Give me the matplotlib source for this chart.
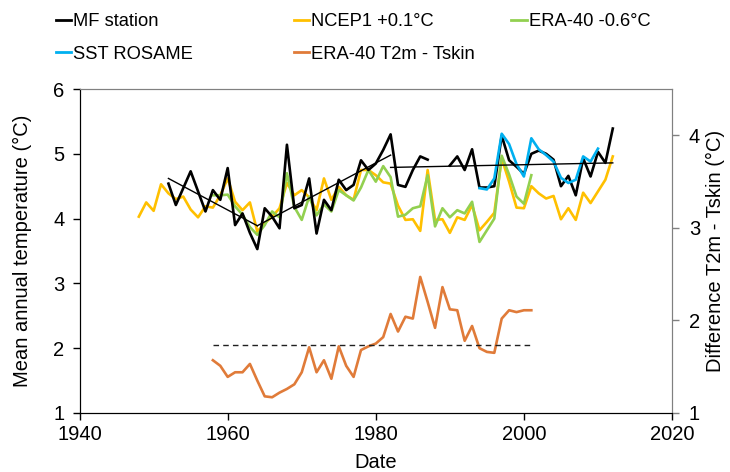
import numpy as np
import matplotlib.pyplot as plt
from matplotlib.lines import Line2D

plt.rcParams['font.family'] = ['Liberation Sans', 'DejaVu Sans']
plt.rcParams['font.size'] = 14.5

# MF station (1952-2012), gaps in 1988-1989
mf_years = np.arange(1952, 2013)
mf_temp = [4.54, 4.21, 4.47, 4.73, 4.42, 4.11, 4.44, 4.29, 4.78, 3.90,
           4.08, 3.78, 3.53, 4.16, 4.03, 3.85, 5.14, 4.16, 4.21, 4.62,
           3.77, 4.29, 4.13, 4.60, 4.44, 4.52, 4.90, 4.75, 4.85, 5.06,
           5.30, 4.52, 4.49, 4.75, 4.96, 4.91, np.nan, np.nan, 4.82, 4.96,
           4.75, 5.07, 4.48, 4.48, 4.50, 5.28, 4.90, 4.80, 4.69, 5.00,
           5.05, 5.00, 4.91, 4.50, 4.66, 4.36, 4.93, 4.65, 5.03, 4.86,
           5.39]

# NCEP1 +0.1°C (1948-2012)
ncep_years = np.arange(1948, 2013)
ncep_temp = [4.03, 4.25, 4.12, 4.53, 4.39, 4.30, 4.34, 4.14, 4.02, 4.19,
             4.17, 4.36, 4.62, 4.26, 4.13, 4.25, 3.80, 3.93, 4.03, 4.16,
             4.55, 4.36, 4.44, 4.33, 4.13, 4.62, 4.29, 4.49, 4.36, 4.29,
             4.75, 4.75, 4.67, 4.56, 4.54, 4.20, 3.98, 3.99, 3.81, 4.75,
             3.98, 3.99, 3.78, 4.02, 3.98, 4.21, 3.82, 3.95, 4.09, 4.93,
             4.57, 4.17, 4.16, 4.50, 4.39, 4.31, 4.35, 3.99, 4.16, 3.98,
             4.40, 4.24, 4.42, 4.60, 4.96]

# ERA-40 -0.6°C (1958-2001)
era_years = np.arange(1958, 2002)
era_temp = [4.36, 4.36, 4.37, 4.19, 4.06, 3.87, 3.75, 3.90, 4.11, 4.02,
            4.70, 4.18, 3.98, 4.34, 4.05, 4.22, 4.11, 4.44, 4.36, 4.28,
            4.48, 4.75, 4.57, 4.81, 4.64, 4.03, 4.06, 4.16, 4.19, 4.67,
            3.88, 4.16, 4.02, 4.13, 4.08, 4.26, 3.64, 3.82, 4.00, 4.97,
            4.68, 4.34, 4.23, 4.67]

# SST ROSAME (1994-2010)
sst_years = np.arange(1994, 2011)
sst_temp = [4.47, 4.45, 4.62, 5.31, 5.15, 4.84, 4.65, 5.24, 5.07, 4.98,
            4.88, 4.63, 4.55, 4.60, 4.96, 4.88, 5.08]

# ERA-40 T2m - Tskin (1958-2001), right axis
diff_years = np.arange(1958, 2002)
diff_vals = [1.57, 1.51, 1.39, 1.44, 1.44, 1.53, 1.35, 1.18, 1.17, 1.22,
             1.26, 1.31, 1.44, 1.71, 1.44, 1.57, 1.37, 1.72, 1.51, 1.39,
             1.68, 1.72, 1.75, 1.82, 2.07, 1.88, 2.04, 2.02, 2.47, 2.20,
             1.92, 2.36, 2.12, 2.11, 1.78, 1.94, 1.70, 1.66, 1.65, 2.02,
             2.11, 2.09, 2.11, 2.11]
diff_mean_years = [1958, 2001]
diff_mean = [1.74, 1.74]

# trend segments of MF station
trend1_years = [1952, 1964]
trend1_vals = [4.62, 3.89]
trend2_years = [1964, 1982]
trend2_vals = [3.89, 4.98]
trend3_years = [1982, 2012]
trend3_vals = [4.79, 4.86]

c_mf = 'black'
c_ncep = '#FFC000'
c_era = '#92D050'
c_sst = '#00B0F0'
c_diff = '#E07B39'

fig = plt.figure(figsize=(7.3, 4.72), dpi=100)
ax = fig.add_axes([0.109, 0.125, 0.8116, 0.6864])
ax2 = ax.twinx()

lw = 1.9
ax.plot(ncep_years, ncep_temp, color=c_ncep, lw=lw, zorder=2)
ax.plot(era_years, era_temp, color=c_era, lw=lw, zorder=3)
ax.plot(mf_years, mf_temp, color=c_mf, lw=lw, zorder=4)
ax.plot(sst_years, sst_temp, color=c_sst, lw=lw, zorder=5)
for ty, tv in [(trend1_years, trend1_vals), (trend2_years, trend2_vals),
               (trend3_years, trend3_vals)]:
    ax.plot(ty, tv, color='black', lw=1.0, zorder=6)

ax2.plot(diff_years, diff_vals, color=c_diff, lw=lw)
ax2.plot(diff_mean_years, diff_mean, color='#202020', lw=1.0, ls=(0, (4, 3)))

ax.set_xlim(1940, 2020)
ax.set_ylim(1, 6)
ax.set_xticks([1940, 1960, 1980, 2000, 2020])
ax.set_yticks([1, 2, 3, 4, 5, 6])
ax2.set_ylim(1, 4.5)
ax2.set_yticks([1, 2, 3, 4])

for a in (ax, ax2):
    a.spines['top'].set_color('#808080')
    a.spines['right'].set_color('#808080')
ax.tick_params(axis='x', direction='out', length=5, width=1, pad=4)
ax.tick_params(axis='y', direction='out', length=5, width=1, pad=6)
ax2.tick_params(axis='y', direction='out', length=5, width=1, color='#808080', pad=7)

ax.set_xlabel('Date', labelpad=6)
ax.set_ylabel('Mean annual temperature (°C)', labelpad=15)
ax2.set_ylabel('Difference T2m - Tskin (°C)', labelpad=4)

legend_cols = [
    ([Line2D([], [], color=c_mf, lw=2), Line2D([], [], color=c_sst, lw=2)],
     ['MF station', 'SST ROSAME'], 0.064),
    ([Line2D([], [], color=c_ncep, lw=2), Line2D([], [], color=c_diff, lw=2)],
     ['NCEP1 +0.1°C', 'ERA-40 T2m - Tskin'], 0.390),
    ([Line2D([], [], color=c_era, lw=2)],
     ['ERA-40 -0.6°C'], 0.688),
]
for handles, labels, xpos in legend_cols:
    fig.legend(handles, labels, loc='upper left', bbox_to_anchor=(xpos, 0.992),
               frameon=False, borderpad=0, handlelength=0.85,
               handletextpad=0.1, labelspacing=0.85, fontsize=13.2)

fig.savefig('out.png', dpi=100)
